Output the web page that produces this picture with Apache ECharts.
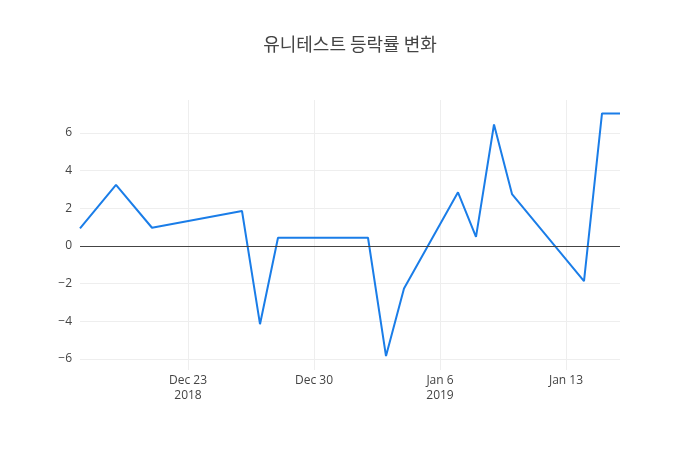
<!DOCTYPE html>
<html>
<head>
<meta charset="utf-8">
<script src="https://cdn.jsdelivr.net/npm/echarts@6/dist/echarts.min.js"></script>
<style>
  html, body { margin: 0; padding: 0; background: #fff; }
  #main { width: 700px; height: 450px; }
</style>
</head>
<body>
<div id="main"></div>
<script>
// 날짜 (거래일)
var dates = ['2018-12-17', '2018-12-19', '2018-12-21', '2018-12-26', '2018-12-27', '2018-12-28',
	'2019-01-02', '2019-01-03', '2019-01-04', '2019-01-07', '2019-01-08', '2019-01-09',
	'2019-01-10', '2019-01-14', '2019-01-15', '2019-01-16'];
// 등락률 (%)
var rates = [0.94, 3.24, 0.97, 1.86, -4.15, 0.44, 0.44, -5.84, -2.26, 2.85, 0.49, 6.45, 2.76, -1.86, 7.04, 7.04];
// 눈금
var xTicks = ['2018-12-23', '2018-12-30', '2019-01-06', '2019-01-13'];
var yTicks = [-6, -4, -2, 0, 2, 4, 6];

(function () {
	var myChart = echarts.init(document.getElementById('main'));
	function toTime(s) {
		return new Date(s + 'T00:00:00').getTime();
	}
	var xTickTimes = xTicks.map(toTime);
	var months = ['Jan', 'Feb', 'Mar', 'Apr', 'May', 'Jun', 'Jul', 'Aug', 'Sep', 'Oct', 'Nov', 'Dec'];
	// 해마다 처음 나오는 눈금에만 연도 표시
	var yearTick = {};
	xTickTimes.forEach(function (t) {
		var y = new Date(t).getFullYear();
		if (yearTick[y] === undefined) yearTick[y] = t;
	});
	var option = {
		animation: false,
		title: {
			text: '유니테스트 등락률 변화',
			left: 'center',
			top: 30,
			textStyle: {
				fontFamily: 'Noto Sans CJK KR',
				fontSize: 18,
				fontWeight: 'normal',
				color: '#444'
			}
		},
		grid: {
			left: 80,
			right: 80,
			top: 100,
			bottom: 80
		},
		xAxis: {
			// 타임스탬프를 값 축으로 사용
			type: 'value',
			min: toTime(dates[0]),
			max: toTime(dates[dates.length - 1]),
			axisLine: { show: false },
			axisTick: { show: false, customValues: xTickTimes },
			splitLine: {
				show: true,
				lineStyle: { color: '#eee', width: 1 }
			},
			axisLabel: {
				customValues: xTickTimes,
				color: '#444',
				fontFamily: 'Open Sans',
				fontSize: 12,
				lineHeight: 15,
				margin: 3,
				formatter: function (val) {
					var d = new Date(val);
					var txt = months[d.getMonth()] + ' ' + d.getDate();
					var y = d.getFullYear();
					if (yearTick[y] === val) txt += '\n' + y;
					return txt;
				}
			}
		},
		yAxis: {
			type: 'value',
			min: -6.58,
			max: 7.75,
			axisLine: { show: false },
			axisTick: { show: false, customValues: yTicks },
			splitLine: {
				lineStyle: { color: '#eee', width: 1 }
			},
			axisLabel: {
				customValues: yTicks,
				color: '#444',
				fontFamily: 'Open Sans',
				fontSize: 12,
				margin: 8,
				formatter: function (v) {
					return v < 0 ? '\u2212' + Math.abs(v) : String(v);
				}
			}
		},
		series: [
			{
				type: 'line',
				data: dates.map(function (d, i) { return [toTime(d), rates[i]]; }),
				showSymbol: false,
				lineStyle: { color: '#1a7de8', width: 2 },
				itemStyle: { color: '#1a7de8' },
				// 0 기준선
				markLine: {
					silent: true,
					symbol: 'none',
					label: { show: false },
					lineStyle: { color: '#444', width: 1, type: 'solid' },
					data: [{ yAxis: 0 }]
				}
			}
		]
	};
	myChart.setOption(option);
	window.addEventListener('resize', function () {
		myChart.resize();
	});
})();
</script>
</body>
</html>
